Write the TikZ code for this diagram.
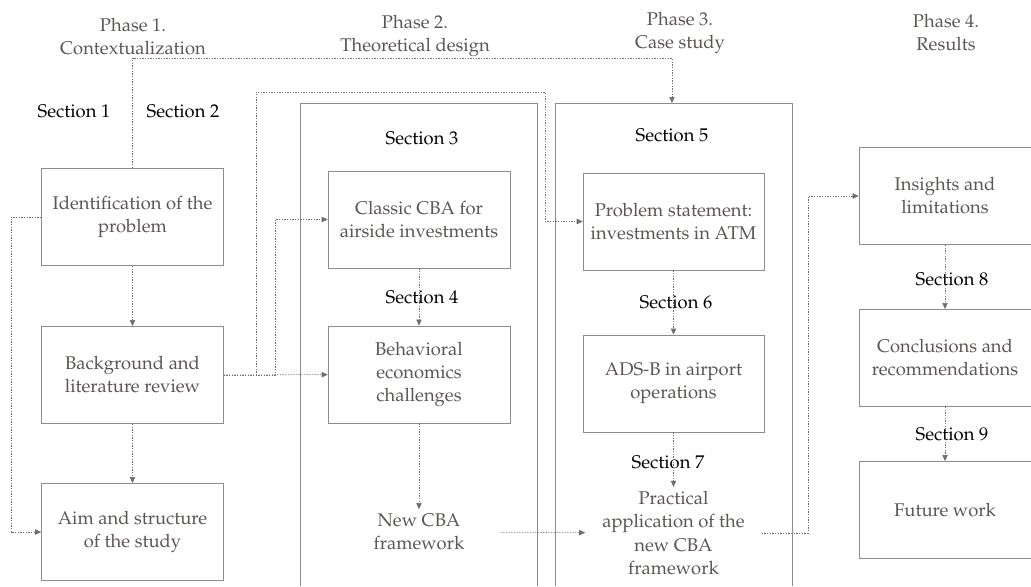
\documentclass[tikz,border=0pt]{standalone}
\usepackage[T1]{fontenc}
\usepackage{mathpazo}
\usetikzlibrary{arrows.meta}
\definecolor{boxgray}{HTML}{8C8C8C}
\definecolor{txtgray}{HTML}{5B5553}
\definecolor{lnkgray}{HTML}{6E6E6E}
\begin{document}
\begin{tikzpicture}[x=0.75pt,y=-0.75pt,
  font=\fontsize{13.8}{17.3}\selectfont,
  box/.style={draw=boxgray,text=txtgray,align=center,minimum height=73pt},
  boxa/.style={box,minimum width=136.5pt},
  boxc/.style={box,minimum width=135.75pt},
  boxd/.style={box,minimum width=129pt},
  plain/.style={text=txtgray,align=center},
  sec/.style={text=black},
  phase/.style={text=txtgray,align=center},
  link/.style={draw=lnkgray,dash pattern=on 1pt off 1pt,-{Triangle[length=4.5pt,width=4pt]}},
  frame/.style={draw=boxgray}]
\useasboundingbox (0,0) rectangle (1031,586);

\node[phase] (ph1) at (133,37) {Phase 1.\\Contextualization};
\node[phase] (ph2) at (415,36) {Phase 2.\\Theoretical design};
\node[phase] (ph3) at (680,33) {Phase 3.\\Case study};
\node[phase] (ph4) at (946,33) {Phase 4.\\Results};

\draw[frame] (300,586) |- (537,103) -- (537,586);
\draw[frame] (555,586) |- (792,103) -- (792,586);
\coordinate (p3top) at (672,103);

\node[sec] (sec1) at (74,111) {Section 1};
\node[sec] (sec2) at (183,111) {Section 2};
\node[sec] (sec3) at (422,138) {Section 3};
\node[sec] (sec4) at (422,297) {Section 4};
\node[sec] (sec5) at (672,135) {Section 5};
\node[sec] (sec6) at (676,302) {Section 6};
\node[sec] (sec7) at (668,462) {Section 7};
\node[sec] (sec8) at (952,279) {Section 8};
\node[sec] (sec9) at (952,434) {Section 9};

\node[boxa] (ident) at (132.5,217) {Identification of the\\problem};
\node[boxa] (backgr) at (132.5,375) {Background and\\literature review};
\node[boxa] (aim) at (132.5,532) {Aim and structure\\of the study};

\node[boxa] (classic) at (419,219.5) {Classic CBA for\\airside investments};
\node[boxa] (behav) at (419,374.5) {Behavioral\\economics\\challenges};
\node[plain,minimum width=121.5pt] (newcba) at (419,532) {New CBA\\framework};

\node[boxc] (probl) at (673.5,221.5) {Problem statement:\\investments in ATM};
\node[boxc] (adsb) at (673.5,383.5) {ADS-B in airport\\operations};
\node[plain,minimum width=132pt] (pract) at (673.5,533) {Practical\\application of the\\new CBA\\framework};

\node[boxd] (insig) at (945,196) {Insights and\\limitations};
\node[boxd] (concl) at (945,358) {Conclusions and\\recommendations};
\node[boxd] (futur) at (945,510) {Future work};

\draw[link] (ident.north) |- (672,58) -- (p3top);
\draw[link] (ident) -- (backgr);
\draw[link] (backgr) -- (aim);
\draw[link] (ident.west) -- (11,217) |- (aim.west);
\draw[link] (backgr) -- (behav);
\draw[link] (backgr.east) -- (275,375) |- (classic.west);
\draw[link] (backgr.east) -- (256,375) |- (545,92) |- (probl.west);

\draw[link] (classic) -- (behav);
\draw[link] (behav) -- (newcba);
\draw[link] (newcba) -- (pract);

\draw[link] (probl) -- (adsb);
\draw[link] (adsb.south) -- (pract.north);
\draw[link] (pract.east) -- (808,533) |- (insig.west);

\draw[link] (insig) -- (concl);
\draw[link] (concl) -- (futur);

\end{tikzpicture}
\end{document}
